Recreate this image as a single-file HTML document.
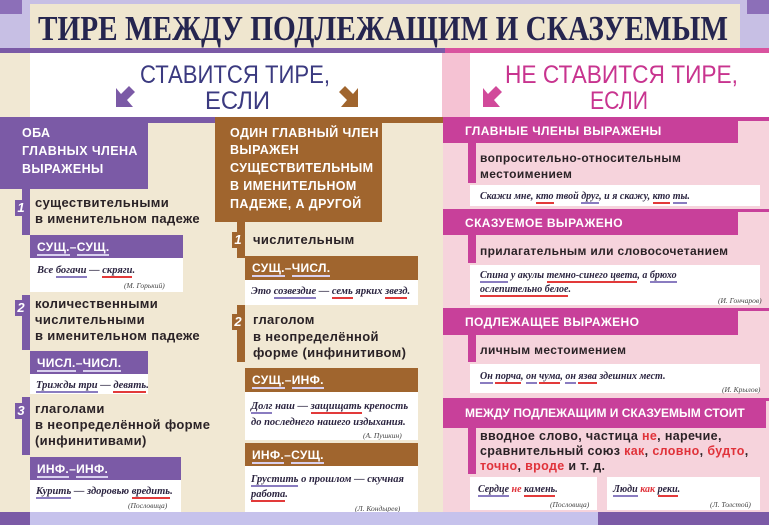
<!DOCTYPE html>
<html><head><meta charset="utf-8"><style>
*{margin:0;padding:0;box-sizing:border-box}
body{width:769px;height:525px;overflow:hidden;position:relative;background:#f1e8d3;font-family:"Liberation Sans",sans-serif}
.a{position:absolute}
.t{position:absolute;white-space:nowrap;font-weight:bold;color:#2a2226;font-size:13px;letter-spacing:0.35px;line-height:16px}
.h{position:absolute;white-space:nowrap;font-weight:bold;color:#fff;font-size:12.5px;letter-spacing:0.4px;line-height:18px}
.lb{position:absolute;white-space:nowrap;font-weight:bold;color:#fff;font-size:12px;letter-spacing:0.3px}
.lb u{text-decoration:none;border-bottom:2px solid #d9d0ee}
.ex{position:absolute;white-space:nowrap;font-family:"Liberation Serif",serif;font-style:italic;font-weight:bold;font-size:10.5px;color:#2b2440;line-height:15px}
.au{position:absolute;white-space:nowrap;font-family:"Liberation Serif",serif;font-style:italic;font-size:7.5px;color:#444}
.r{border-bottom:2px solid #e23a3a}
.s{border-bottom:2px solid #8a7cc0}
.n{position:absolute;width:12px;height:16px;color:#fff;font-weight:bold;font-style:italic;font-size:13px;text-align:center;line-height:16px}
.red{color:#e0323a}
</style></head><body>
<div class="a" style="left:0;top:0;width:769px;height:50px;background:#c7bfe4"></div>
<div class="a" style="left:0;top:0;width:22px;height:14px;background:#8c6fb8"></div>
<div class="a" style="left:747px;top:0;width:22px;height:14px;background:#8c6fb8"></div>
<div class="a" style="left:30px;top:4px;width:710px;height:44px;background:#efe6cf"></div>
<div class="a" style="left:0;top:48px;width:445px;height:5px;background:#7b5aa6"></div>
<div class="a" style="left:445px;top:48px;width:324px;height:5px;background:#d9539f"></div>
<div class="a" style="left:30px;top:53px;width:412px;height:64px;background:#fff"></div>
<div class="a" style="left:442px;top:53px;width:28px;height:64px;background:#f5c2d3"></div>
<div class="a" style="left:470px;top:53px;width:299px;height:64px;background:#fff"></div>
<div class="a" style="left:443px;top:117px;width:326px;height:395px;background:#f6d3dc"></div>
<svg class="a" style="left:0;top:0" width="769" height="120">
<text x="38" y="40" textLength="690" lengthAdjust="spacingAndGlyphs" font-family="Liberation Serif" font-weight="bold" font-size="35" fill="#25254f">ТИРЕ МЕЖДУ ПОДЛЕЖАЩИМ И СКАЗУЕМЫМ</text>
<text x="140" y="83" textLength="190" lengthAdjust="spacingAndGlyphs" font-family="Liberation Sans" font-size="25" fill="#3b3a80">СТАВИТСЯ ТИРЕ,</text>
<text x="205" y="109" textLength="65" lengthAdjust="spacingAndGlyphs" font-family="Liberation Sans" font-size="25" fill="#3b3a80">ЕСЛИ</text>
<text x="505" y="83" textLength="233" lengthAdjust="spacingAndGlyphs" font-family="Liberation Sans" font-size="25" fill="#c8348f">НЕ СТАВИТСЯ ТИРЕ,</text>
<text x="590" y="109" textLength="58" lengthAdjust="spacingAndGlyphs" font-family="Liberation Sans" font-size="25" fill="#c8348f">ЕСЛИ</text>
<polygon points="116,107 116,88 121,94 129,86 135,92 127,100 133,107" fill="#7b5aa6"/>
<polygon points="358,107 358,88 353,94 345,86 339,92 347,100 341,107" fill="#a0652e"/>
<polygon points="483,107 483,88 488,94 496,86 502,92 494,100 500,107" fill="#d14a9a"/>
</svg>
<div class="a" style="left:0;top:117px;width:218px;height:6px;background:#7b5aa6"></div>
<div class="a" style="left:0;top:117px;width:148px;height:72px;background:#7b5aa6"></div>
<div class="h" style="left:22px;top:124px">ОБА</div>
<div class="h" style="left:22px;top:142px">ГЛАВНЫХ ЧЛЕНА</div>
<div class="h" style="left:22px;top:160px">ВЫРАЖЕНЫ</div>
<div class="a" style="left:22px;top:189px;width:8px;height:46px;background:#7b5aa6"></div>
<div class="n" style="left:15px;top:200px;background:#7b5aa6">1</div>
<div class="t" style="left:35px;top:195px">существительными</div>
<div class="t" style="left:35px;top:211px">в именительном падеже</div>
<div class="a" style="left:30px;top:235px;width:153px;height:23px;background:#7b5aa6"></div>
<div class="lb" style="left:37px;top:240px"><u>СУЩ.</u>–<u>СУЩ.</u></div>
<div class="a" style="left:30px;top:258px;width:153px;height:34px;background:#fff"></div>
<div class="ex" style="left:37px;top:263px">Все <span class="s">богачи</span> — <span class="r">скряги</span>.</div>
<div class="au" style="left:124px;top:281px">(М. Горький)</div>
<div class="a" style="left:22px;top:295px;width:8px;height:55px;background:#7b5aa6"></div>
<div class="n" style="left:15px;top:300px;background:#7b5aa6">2</div>
<div class="t" style="left:35px;top:296px">количественными</div>
<div class="t" style="left:35px;top:312px">числительными</div>
<div class="t" style="left:35px;top:328px">в именительном падеже</div>
<div class="a" style="left:30px;top:351px;width:118px;height:23px;background:#7b5aa6"></div>
<div class="lb" style="left:37px;top:356px"><u>ЧИСЛ.</u>–<u>ЧИСЛ.</u></div>
<div class="a" style="left:30px;top:374px;width:118px;height:20px;background:#fff"></div>
<div class="ex" style="left:36px;top:378px"><span class="s">Трижды три</span> — <span class="r">девять</span>.</div>
<div class="a" style="left:22px;top:397px;width:8px;height:58px;background:#7b5aa6"></div>
<div class="n" style="left:15px;top:403px;background:#7b5aa6">3</div>
<div class="t" style="left:35px;top:401px">глаголами</div>
<div class="t" style="left:35px;top:417px">в неопределённой форме</div>
<div class="t" style="left:35px;top:433px">(инфинитивами)</div>
<div class="a" style="left:30px;top:457px;width:151px;height:23px;background:#7b5aa6"></div>
<div class="lb" style="left:37px;top:462px"><u>ИНФ.</u>–<u>ИНФ.</u></div>
<div class="a" style="left:30px;top:480px;width:151px;height:32px;background:#fff"></div>
<div class="ex" style="left:36px;top:484px"><span class="s">Курить</span> — здоровью <span class="r">вредить</span>.</div>
<div class="au" style="left:128px;top:501px">(Пословица)</div>
<div class="a" style="left:215px;top:117px;width:228px;height:6px;background:#a0652e"></div>
<div class="a" style="left:215px;top:117px;width:167px;height:105px;background:#a0652e"></div>
<div class="h" style="left:230px;top:124px">ОДИН ГЛАВНЫЙ ЧЛЕН</div>
<div class="h" style="left:230px;top:141px">ВЫРАЖЕН</div>
<div class="h" style="left:230px;top:159px">СУЩЕСТВИТЕЛЬНЫМ</div>
<div class="h" style="left:230px;top:177px">В ИМЕНИТЕЛЬНОМ</div>
<div class="h" style="left:230px;top:195px">ПАДЕЖЕ, А ДРУГОЙ</div>
<div class="a" style="left:237px;top:222px;width:8px;height:36px;background:#a0652e"></div>
<div class="n" style="left:232px;top:232px;background:#a0652e">1</div>
<div class="t" style="left:253px;top:232px">числительным</div>
<div class="a" style="left:245px;top:256px;width:173px;height:24px;background:#a0652e"></div>
<div class="lb" style="left:252px;top:261px"><u>СУЩ.</u>–<u>ЧИСЛ.</u></div>
<div class="a" style="left:245px;top:280px;width:173px;height:25px;background:#fff"></div>
<div class="ex" style="left:251px;top:284px">Это <span class="s">созвездие</span> — <span class="r">семь</span> ярких <span class="r">звезд</span>.</div>
<div class="a" style="left:237px;top:305px;width:8px;height:57px;background:#a0652e"></div>
<div class="n" style="left:232px;top:314px;background:#a0652e">2</div>
<div class="t" style="left:253px;top:312px">глаголом</div>
<div class="t" style="left:253px;top:329px">в неопределённой</div>
<div class="t" style="left:253px;top:345px">форме (инфинитивом)</div>
<div class="a" style="left:245px;top:368px;width:173px;height:24px;background:#a0652e"></div>
<div class="lb" style="left:252px;top:373px"><u>СУЩ.</u>–<u>ИНФ.</u></div>
<div class="a" style="left:245px;top:392px;width:173px;height:48px;background:#fff"></div>
<div class="ex" style="left:251px;top:399px"><span class="s">Долг</span> наш — <span class="r">защищать</span> крепость</div>
<div class="ex" style="left:251px;top:415px">до последнего нашего издыхания.</div>
<div class="au" style="left:363px;top:431px">(А. Пушкин)</div>
<div class="a" style="left:245px;top:443px;width:173px;height:23px;background:#a0652e"></div>
<div class="lb" style="left:252px;top:448px"><u>ИНФ.</u>–<u>СУЩ.</u></div>
<div class="a" style="left:245px;top:466px;width:173px;height:46px;background:#fff"></div>
<div class="ex" style="left:251px;top:472px"><span class="s">Грустить</span> о прошлом — скучная</div>
<div class="ex" style="left:251px;top:487px"><span class="r">работа</span>.</div>
<div class="au" style="left:355px;top:504px">(Л. Кондырев)</div>
<div class="a" style="left:443px;top:117px;width:326px;height:4px;background:#c8409a"></div>
<div class="a" style="left:443px;top:117px;width:295px;height:26px;background:#c8409a"></div>
<div class="h" style="left:465px;top:122px;font-size:12px">ГЛАВНЫЕ ЧЛЕНЫ ВЫРАЖЕНЫ</div>
<div class="a" style="left:468px;top:143px;width:8px;height:40px;background:#c8409a"></div>
<div class="t" style="left:480px;top:150px;font-size:12px">вопросительно-относительным</div>
<div class="t" style="left:480px;top:166px;font-size:12px">местоимением</div>
<div class="a" style="left:470px;top:185px;width:290px;height:21px;background:#fff"></div>
<div class="ex" style="left:480px;top:189px;font-size:10px">Скажи мне, <span class="r">кто</span> твой <span class="s">друг</span>, и я скажу, <span class="r">кто</span> <span class="s">ты</span>.</div>
<div class="a" style="left:443px;top:209px;width:326px;height:3px;background:#c8409a"></div>
<div class="a" style="left:443px;top:209px;width:295px;height:26px;background:#c8409a"></div>
<div class="h" style="left:465px;top:214px;font-size:12px">СКАЗУЕМОЕ ВЫРАЖЕНО</div>
<div class="a" style="left:468px;top:235px;width:8px;height:28px;background:#c8409a"></div>
<div class="t" style="left:480px;top:243px;font-size:12px">прилагательным или словосочетанием</div>
<div class="a" style="left:470px;top:265px;width:290px;height:40px;background:#fff"></div>
<div class="ex" style="left:480px;top:268px;font-size:10px"><span class="s">Спина</span> у акулы <span class="r">темно-синего цвета</span>, а <span class="s">брюхо</span></div>
<div class="ex" style="left:480px;top:282px;font-size:10px"><span class="r">ослепительно белое</span>.</div>
<div class="au" style="left:718px;top:296px">(И. Гончаров)</div>
<div class="a" style="left:443px;top:308px;width:326px;height:3px;background:#c8409a"></div>
<div class="a" style="left:443px;top:308px;width:295px;height:27px;background:#c8409a"></div>
<div class="h" style="left:465px;top:313px;font-size:12px">ПОДЛЕЖАЩЕЕ ВЫРАЖЕНО</div>
<div class="a" style="left:468px;top:335px;width:8px;height:27px;background:#c8409a"></div>
<div class="t" style="left:480px;top:342px;font-size:12px">личным местоимением</div>
<div class="a" style="left:470px;top:364px;width:290px;height:29px;background:#fff"></div>
<div class="ex" style="left:480px;top:369px;font-size:10px"><span class="s">Он</span> <span class="r">порча</span>, <span class="s">он</span> <span class="r">чума</span>, <span class="s">он</span> <span class="r">язва</span> здешних мест.</div>
<div class="au" style="left:722px;top:385px">(И. Крылов)</div>
<div class="a" style="left:443px;top:398px;width:326px;height:3px;background:#c8409a"></div>
<div class="a" style="left:443px;top:398px;width:323px;height:30px;background:#c8409a"></div>
<div class="h" style="left:465px;top:404px;font-size:12px;letter-spacing:0">МЕЖДУ ПОДЛЕЖАЩИМ И СКАЗУЕМЫМ СТОИТ</div>
<div class="a" style="left:468px;top:428px;width:8px;height:46px;background:#c8409a"></div>
<div class="t" style="left:480px;top:429px;font-size:12.5px;line-height:15px">вводное слово, частица <span class="red">не</span>, наречие,</div>
<div class="t" style="left:480px;top:444px;font-size:12.5px;line-height:15px">сравнительный союз <span class="red">как</span>, <span class="red">словно</span>, <span class="red">будто</span>,</div>
<div class="t" style="left:480px;top:459px;font-size:12.5px;line-height:15px"><span class="red">точно</span>, <span class="red">вроде</span> и т. д.</div>
<div class="a" style="left:470px;top:477px;width:127px;height:33px;background:#fff"></div>
<div class="a" style="left:607px;top:477px;width:153px;height:33px;background:#fff"></div>
<div class="ex" style="left:478px;top:482px;font-size:10px"><span class="s">Сердце</span> <span class="red">не</span> <span class="r">камень</span>.</div>
<div class="au" style="left:550px;top:500px">(Пословица)</div>
<div class="ex" style="left:613px;top:482px;font-size:10px"><span class="s">Люди</span> <span class="red">как</span> <span class="r">реки</span>.</div>
<div class="au" style="left:710px;top:500px">(Л. Толстой)</div>
<div class="a" style="left:0;top:512px;width:769px;height:13px;background:#c6c2ec"></div>
<div class="a" style="left:0;top:512px;width:30px;height:13px;background:#7b5aa6"></div>
<div class="a" style="left:598px;top:512px;width:171px;height:13px;background:#7b5aa6"></div>
</body></html>
